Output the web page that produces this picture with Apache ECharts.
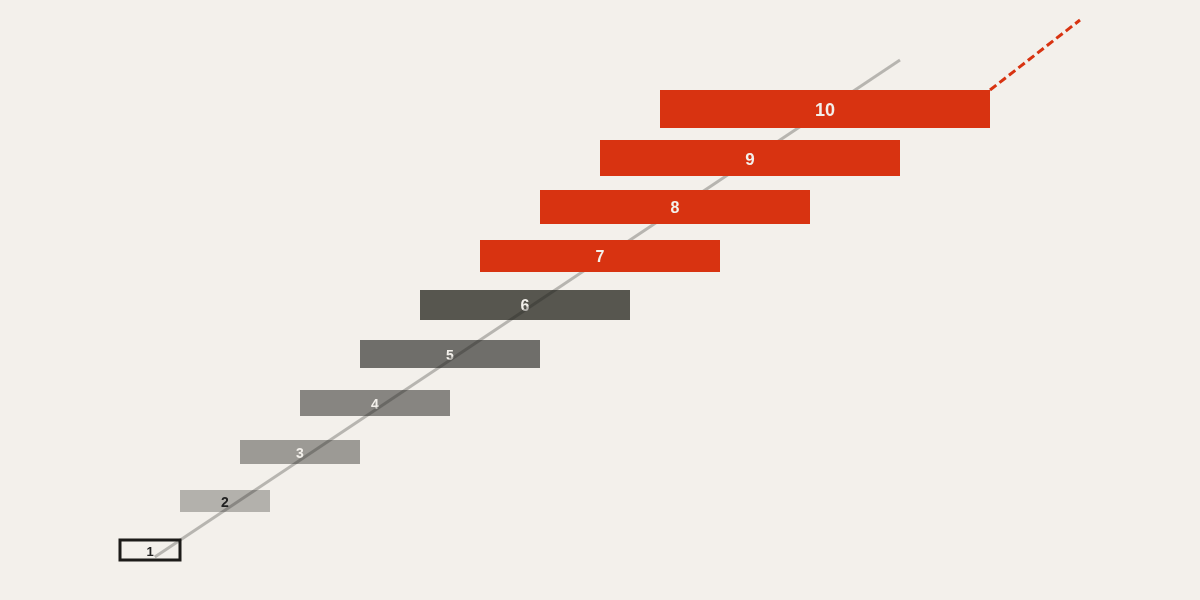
<!DOCTYPE html>
<html>
<head>
<meta charset="utf-8">
<script src="https://cdn.jsdelivr.net/npm/echarts@6/dist/echarts.min.js"></script>
<style>
  html, body { margin: 0; padding: 0; background: #f3f0eb; }
  #chart { width: 1200px; height: 600px; }
</style>
</head>
<body>
<div id="chart"></div>
<script>
// step data (x in units, rank on y)
var ranks = [1, 2, 3, 4, 5, 6, 7, 8, 9, 10];
var starts = [2, 3, 4, 5, 6, 7, 8, 9, 10, 11];
var ends = [3, 4.5, 6, 7.5, 9, 10.5, 12, 13.5, 15, 16.5];
var labels = ['1', '2', '3', '4', '5', '6', '7', '8', '9', '10'];

// trend line and its dashed extension
var trendX = [2.58, 15];
var trendY = [0.66, 10.6];
var extX = [16.5, 18];
var extY = [10, 11.4];

var fills = ['none', '#b3b1ac', '#9c9a95', '#878581', '#6f6e6a', '#57564f',
             '#d83311', '#d83311', '#d83311', '#d83311'];
var fontSizes = [13, 14, 14, 14, 14, 16, 16, 16, 17, 18];

function rows(filter) {
  var out = [];
  for (var i = 0; i < ranks.length; i++) {
    if (filter(i)) out.push([starts[i], ends[i], ranks[i], i]);
  }
  return out;
}

function renderItem(params, api) {
  var i = api.value(3);
  var tl = api.coord([api.value(0), api.value(2)]);
  var tr = api.coord([api.value(1), api.value(2)]);
  var h = 20 + 2 * i;
  var w = tr[0] - tl[0];
  var outlined = i === 0;
  return {
    type: 'group',
    children: [{
      type: 'rect',
      shape: { x: tl[0], y: tl[1], width: w, height: h },
      style: outlined
        ? { fill: 'transparent', stroke: '#1c1b19', lineWidth: 3 }
        : { fill: fills[i] }
    }, {
      type: 'text',
      x: tl[0] + w / 2,
      y: tl[1] + h / 2 + 2,
      style: {
        text: labels[i],
        fill: i < 2 ? '#222' : '#f3f0eb',
        font: 'bold ' + fontSizes[i] + 'px "Liberation Sans", Arial, sans-serif',
        align: 'center',
        verticalAlign: 'middle'
      }
    }]
  };
}

function pairs(xs, ys) {
  return xs.map(function (x, k) { return [x, ys[k]]; });
}

var chart = echarts.init(document.getElementById('chart'));
var option = {
  backgroundColor: '#f3f0eb',
  animation: false,
  grid: { left: 0, right: 0, top: 0, bottom: 0 },
  xAxis: { type: 'value', min: 0, max: 20, show: false },
  yAxis: { type: 'value', min: -0.2, max: 11.8, show: false },
  series: [{
    type: 'custom',
    z: 1,
    renderItem: renderItem,
    encode: { x: [0, 1], y: 2 },
    data: rows(function (i) { return i < 6; })
  }, {
    type: 'line',
    z: 2,
    symbol: 'none',
    lineStyle: { color: 'rgba(30,28,25,0.28)', width: 3 },
    data: pairs(trendX, trendY)
  }, {
    type: 'line',
    z: 2,
    symbol: 'none',
    lineStyle: { color: '#d83311', width: 3, type: [8, 4] },
    data: pairs(extX, extY)
  }, {
    type: 'custom',
    z: 3,
    renderItem: renderItem,
    encode: { x: [0, 1], y: 2 },
    data: rows(function (i) { return i >= 6; })
  }]
};
chart.setOption(option);
</script>
</body>
</html>
